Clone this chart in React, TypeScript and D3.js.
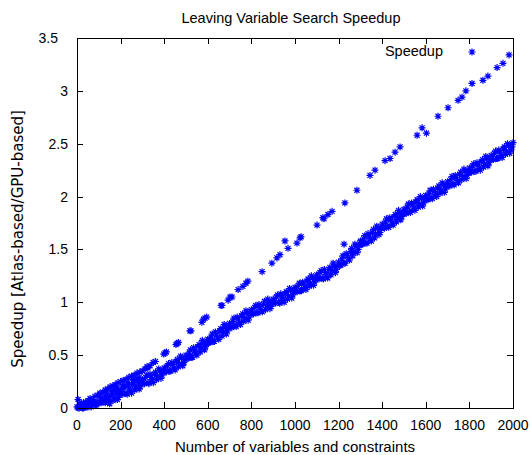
import * as React from "react";
import * as d3 from "d3";

// lower (dense) series: [constraints, speedup]
const denseBand: [number, number][] = [
  [0, 0.01], [10, 0.0], [20, 0.03], [30, 0.0], [40, 0.02], [50, 0.01], [60, 0.05], [70, 0.03], [80, 0.05], [90, 0.03],
  [100, 0.06], [110, 0.05], [120, 0.09], [130, 0.05], [140, 0.08], [150, 0.04], [160, 0.14], [170, 0.1], [180, 0.14], [190, 0.1],
  [200, 0.17], [210, 0.13], [220, 0.21], [230, 0.13], [240, 0.19], [250, 0.14], [260, 0.24], [270, 0.2], [280, 0.24], [290, 0.2],
  [300, 0.27], [310, 0.23], [320, 0.31], [330, 0.23], [340, 0.29], [350, 0.24], [360, 0.34], [370, 0.3], [380, 0.35], [390, 0.31],
  [400, 0.38], [410, 0.34], [420, 0.42], [430, 0.35], [440, 0.41], [450, 0.36], [460, 0.46], [470, 0.42], [480, 0.47], [490, 0.43],
  [500, 0.5], [510, 0.47], [520, 0.55], [530, 0.48], [540, 0.54], [550, 0.5], [560, 0.6], [570, 0.57], [580, 0.61], [590, 0.58],
  [600, 0.65], [610, 0.62], [620, 0.7], [630, 0.63], [640, 0.69], [650, 0.65], [660, 0.75], [670, 0.72], [680, 0.76], [690, 0.73],
  [700, 0.8], [710, 0.76], [720, 0.85], [730, 0.77], [740, 0.84], [750, 0.79], [760, 0.89], [770, 0.85], [780, 0.9], [790, 0.86],
  [800, 0.93], [810, 0.89], [820, 0.97], [830, 0.9], [840, 0.96], [850, 0.91], [860, 1.01], [870, 0.97], [880, 1.0], [890, 0.96],
  [900, 1.03], [910, 0.99], [920, 1.07], [930, 0.99], [940, 1.05], [950, 1.0], [960, 1.1], [970, 1.06], [980, 1.11], [990, 1.07],
  [1000, 1.14], [1010, 1.1], [1020, 1.18], [1030, 1.11], [1040, 1.17], [1050, 1.12], [1060, 1.22], [1070, 1.18], [1080, 1.23], [1090, 1.19],
  [1100, 1.26], [1110, 1.22], [1120, 1.3], [1130, 1.22], [1140, 1.28], [1150, 1.23], [1160, 1.33], [1170, 1.3], [1180, 1.34], [1190, 1.31],
  [1200, 1.38], [1210, 1.35], [1220, 1.44], [1230, 1.37], [1240, 1.44], [1250, 1.4], [1260, 1.51], [1270, 1.48], [1280, 1.53], [1290, 1.5],
  [1300, 1.58], [1310, 1.55], [1320, 1.63], [1330, 1.56], [1340, 1.62], [1350, 1.58], [1360, 1.69], [1370, 1.65], [1380, 1.7], [1390, 1.66],
  [1400, 1.74], [1410, 1.7], [1420, 1.79], [1430, 1.71], [1440, 1.78], [1450, 1.73], [1460, 1.83], [1470, 1.8], [1480, 1.84], [1490, 1.81],
  [1500, 1.88], [1510, 1.84], [1520, 1.93], [1530, 1.85], [1540, 1.92], [1550, 1.87], [1560, 1.97], [1570, 1.93], [1580, 1.98], [1590, 1.94],
  [1600, 2.01], [1610, 1.97], [1620, 2.06], [1630, 1.98], [1640, 2.05], [1650, 2.0], [1660, 2.1], [1670, 2.06], [1680, 2.11], [1690, 2.07],
  [1700, 2.14], [1710, 2.1], [1720, 2.19], [1730, 2.11], [1740, 2.18], [1750, 2.13], [1760, 2.23], [1770, 2.19], [1780, 2.24], [1790, 2.2],
  [1800, 2.27], [1810, 2.23], [1820, 2.31], [1830, 2.24], [1840, 2.3], [1850, 2.25], [1860, 2.35], [1870, 2.31], [1880, 2.36], [1890, 2.32],
  [1900, 2.39], [1910, 2.35], [1920, 2.43], [1930, 2.36], [1940, 2.42], [1950, 2.37], [1960, 2.47], [1970, 2.43], [1980, 2.48], [1990, 2.44],
  [2000, 2.51],
];

// same series, the in-between runs
const denseBandB: [number, number][] = [
  [5, 0.0], [15, 0.02], [25, 0.0], [35, 0.03], [45, 0.01], [55, 0.03], [65, 0.01], [75, 0.06], [85, 0.03], [95, 0.05],
  [105, 0.05], [115, 0.07], [125, 0.06], [135, 0.1], [145, 0.08], [155, 0.12], [165, 0.07], [175, 0.17], [185, 0.08], [195, 0.14],
  [205, 0.14], [215, 0.19], [225, 0.14], [235, 0.22], [245, 0.17], [255, 0.22], [265, 0.17], [275, 0.27], [285, 0.18], [295, 0.24],
  [305, 0.24], [315, 0.29], [325, 0.24], [335, 0.32], [345, 0.27], [355, 0.32], [365, 0.27], [375, 0.37], [385, 0.28], [395, 0.34],
  [405, 0.35], [415, 0.4], [425, 0.35], [435, 0.43], [445, 0.38], [455, 0.44], [465, 0.39], [475, 0.49], [485, 0.4], [495, 0.46],
  [505, 0.47], [515, 0.52], [525, 0.48], [535, 0.57], [545, 0.52], [555, 0.58], [565, 0.53], [575, 0.64], [585, 0.55], [595, 0.61],
  [605, 0.62], [615, 0.67], [625, 0.63], [635, 0.72], [645, 0.67], [655, 0.73], [665, 0.68], [675, 0.79], [685, 0.7], [695, 0.76],
  [705, 0.77], [715, 0.82], [725, 0.78], [735, 0.86], [745, 0.81], [755, 0.87], [765, 0.82], [775, 0.92], [785, 0.83], [795, 0.89],
  [805, 0.9], [815, 0.95], [825, 0.9], [835, 0.98], [845, 0.93], [855, 0.98], [865, 0.93], [875, 1.03], [885, 0.94], [895, 1.0],
  [905, 1.0], [915, 1.05], [925, 1.0], [935, 1.08], [945, 1.03], [955, 1.08], [965, 1.03], [975, 1.13], [985, 1.04], [995, 1.1],
  [1005, 1.11], [1015, 1.16], [1025, 1.11], [1035, 1.19], [1045, 1.14], [1055, 1.2], [1065, 1.15], [1075, 1.25], [1085, 1.16], [1095, 1.22],
  [1105, 1.23], [1115, 1.28], [1125, 1.23], [1135, 1.31], [1145, 1.26], [1155, 1.31], [1165, 1.26], [1175, 1.37], [1185, 1.28], [1195, 1.34],
  [1205, 1.35], [1215, 1.41], [1225, 1.37], [1235, 1.46], [1245, 1.42], [1255, 1.48], [1265, 1.44], [1275, 1.55], [1285, 1.47], [1295, 1.54],
  [1305, 1.55], [1315, 1.6], [1325, 1.56], [1335, 1.65], [1345, 1.6], [1355, 1.66], [1365, 1.61], [1375, 1.72], [1385, 1.64], [1395, 1.7],
  [1405, 1.71], [1415, 1.76], [1425, 1.72], [1435, 1.8], [1445, 1.75], [1455, 1.81], [1465, 1.76], [1475, 1.87], [1485, 1.78], [1495, 1.84],
  [1505, 1.85], [1515, 1.9], [1525, 1.86], [1535, 1.94], [1545, 1.89], [1555, 1.95], [1565, 1.9], [1575, 2.0], [1585, 1.91], [1595, 1.97],
  [1605, 1.98], [1615, 2.03], [1625, 1.99], [1635, 2.07], [1645, 2.02], [1655, 2.08], [1665, 2.03], [1675, 2.13], [1685, 2.04], [1695, 2.1],
  [1705, 2.11], [1715, 2.16], [1725, 2.12], [1735, 2.2], [1745, 2.15], [1755, 2.21], [1765, 2.16], [1775, 2.26], [1785, 2.17], [1795, 2.23],
  [1805, 2.24], [1815, 2.29], [1825, 2.24], [1835, 2.32], [1845, 2.27], [1855, 2.33], [1865, 2.28], [1875, 2.38], [1885, 2.29], [1895, 2.35],
  [1905, 2.36], [1915, 2.41], [1925, 2.36], [1935, 2.44], [1945, 2.39], [1955, 2.45], [1965, 2.4], [1975, 2.5], [1985, 2.41], [1995, 2.47],
];

// upper series, dense near the origin then in small clusters
const upperBand: [number, number][] = [
  [5, 0.08], [12, 0.03], [20, 0.05], [30, 0.04], [40, 0.06], [52, 0.07], [60, 0.09], [70, 0.08], [82, 0.11], [95, 0.12],
  [105, 0.14], [110, 0.1], [118, 0.15], [130, 0.17], [135, 0.13], [140, 0.18], [152, 0.2], [160, 0.16], [165, 0.21], [175, 0.22],
  [185, 0.19], [188, 0.24], [200, 0.25], [210, 0.21], [212, 0.26], [225, 0.27], [235, 0.24], [238, 0.29], [250, 0.3], [260, 0.27],
  [262, 0.31], [275, 0.33], [285, 0.29], [288, 0.34], [300, 0.35], [312, 0.37], [321, 0.39], [325, 0.38], [335, 0.4], [349, 0.43],
  [360, 0.44], [398, 0.51], [404, 0.52], [410, 0.53], [454, 0.6], [459, 0.61], [465, 0.62], [518, 0.73], [523, 0.73], [573, 0.81],
  [580, 0.84], [587, 0.85], [595, 0.86], [661, 0.97], [665, 0.97], [693, 1.02], [702, 1.05], [711, 1.05], [739, 1.12], [761, 1.15],
  [775, 1.18], [784, 1.2], [849, 1.29], [894, 1.37], [917, 1.42], [931, 1.45], [954, 1.58], [968, 1.51], [1009, 1.56], [1023, 1.61],
  [1028, 1.62], [1101, 1.73], [1128, 1.8], [1133, 1.79], [1151, 1.83], [1170, 1.86], [1225, 1.55], [1229, 1.94], [1284, 2.06], [1344, 2.2],
  [1367, 2.25], [1413, 2.34], [1436, 2.36], [1459, 2.42], [1482, 2.47], [1560, 2.58], [1583, 2.65], [1603, 2.6], [1656, 2.76], [1702, 2.84],
  [1748, 2.91], [1766, 2.94], [1784, 3.0], [1812, 3.07], [1862, 3.1], [1885, 3.14], [1927, 3.22], [1954, 3.26], [1982, 3.34],
];

const xTicks = [0, 200, 400, 600, 800, 1000, 1200, 1400, 1600, 1800, 2000];
const yTicks = [0, 0.5, 1, 1.5, 2, 2.5, 3, 3.5];

const title = "Leaving Variable Search Speedup";
const xTitle = "Number of variables and constraints";
const yTitle = "Speedup [Atlas-based/GPU-based]";
const seriesName = "Speedup";

const W = 532;
const H = 455;
const left = 77, right = 513, top = 38, bottom = 408;
const font = "'Liberation Sans', Arial, Helvetica, sans-serif";
const blue = "#0000ff";

// gnuplot style asterisk (pt 3)
const star = "M-3.5,0H3.5M0,-3.5V3.5M-2.5,-2.5L2.5,2.5M-2.5,2.5L2.5,-2.5";

export default function App() {
  const x = d3.scaleLinear().domain([0, 2000]).range([left, right]);
  const y = d3.scaleLinear().domain([0, 3.5]).range([bottom, top]);
  const all = denseBand.concat(denseBandB, upperBand);

  return (
    <svg width={W} height={H} style={{ position: "absolute", left: 0, top: 0, background: "#fff" }}>
      <text x={291} y={23} fontFamily={font} fontSize={14.5} textAnchor="middle">{title}</text>

      <g stroke="#000" strokeWidth={1}>
        {xTicks.map(t => (
          <g key={"x" + t}>
            <line x1={Math.round(x(t)) + 0.5} x2={Math.round(x(t)) + 0.5} y1={bottom} y2={bottom - 6} />
            <line x1={Math.round(x(t)) + 0.5} x2={Math.round(x(t)) + 0.5} y1={top} y2={top + 6} />
          </g>
        ))}
        {yTicks.map(t => (
          <g key={"y" + t}>
            <line x1={left} x2={left + 6} y1={Math.round(y(t)) + 0.5} y2={Math.round(y(t)) + 0.5} />
            <line x1={right} x2={right - 6} y1={Math.round(y(t)) + 0.5} y2={Math.round(y(t)) + 0.5} />
          </g>
        ))}
      </g>

      <g fontFamily={font} fontSize={14}>
        {xTicks.map(t => (
          <text key={"xl" + t} x={x(t)} y={430} textAnchor="middle">{t}</text>
        ))}
        {yTicks.map(t => (
          <text key={"yl" + t} x={t === 3.5 ? 58 : 68} y={y(t)} dy="0.36em" textAnchor="end">{t}</text>
        ))}
      </g>

      <text x={295} y={452} fontFamily={font} fontSize={15} textAnchor="middle">{xTitle}</text>
      <text transform="translate(23,239) rotate(-90)" fontFamily="'DejaVu Sans', sans-serif" fontSize={15} textAnchor="middle">{yTitle}</text>

      <g fill="none" stroke={blue} strokeWidth={1.2}>
        {all.map((d, i) => (
          <path key={i} d={star} transform={`translate(${x(d[0])},${y(d[1])})`} />
        ))}
        <path d={star} transform="translate(472,52)" />
      </g>
      <text x={443} y={56} fontFamily={font} fontSize={14.5} textAnchor="end">{seriesName}</text>

      <rect x={left + 0.5} y={top + 0.5} width={right - left} height={bottom - top} fill="none" stroke="#000" strokeWidth={1} />
    </svg>
  );
}
